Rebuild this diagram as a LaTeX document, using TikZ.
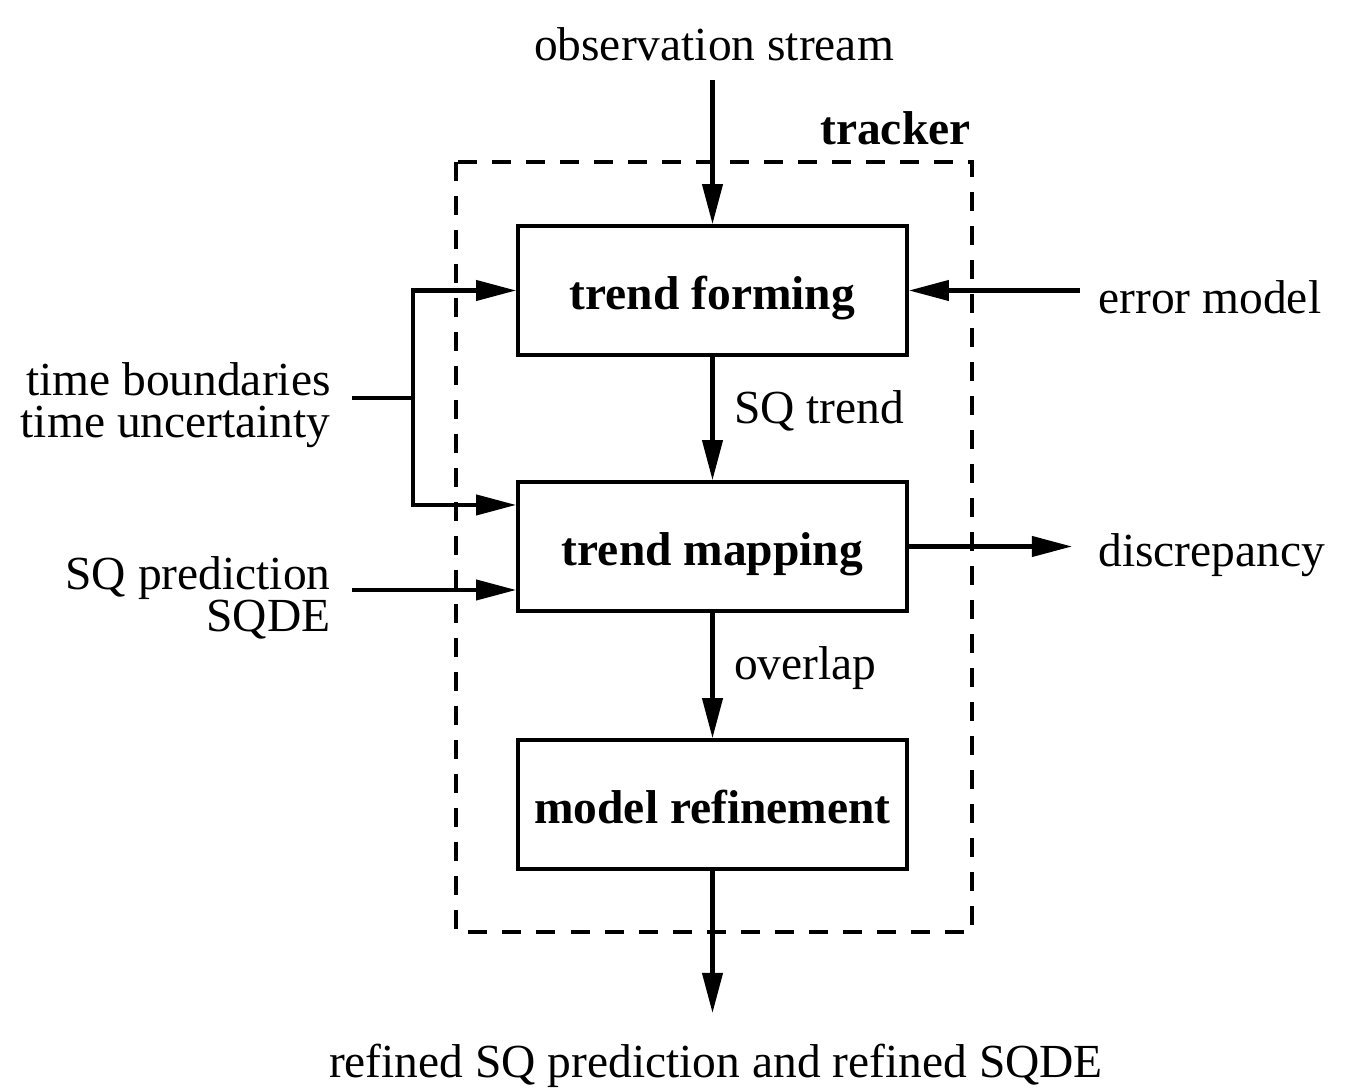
\documentclass[tikz,border=0pt]{standalone}
\usepackage{fontspec}
\setmainfont{Liberation Serif}
\usetikzlibrary{arrows.meta}

\begin{document}
\begin{tikzpicture}[x=0.01cm,y=-0.01cm,
  font=\fontsize{13.5}{12}\selectfont,
  block/.style={draw,line width=1pt,minimum width=3.89cm,minimum height=1.29cm,inner sep=0pt,text height=13.6pt,text depth=2.9pt,font=\fontsize{13.5}{12}\selectfont\bfseries},
  arr/.style={line width=1.15pt,-{Triangle[length=0.4cm,width=0.2cm]}},
  wire/.style={line width=1.15pt}]
\useasboundingbox (0,0) rectangle (1354,1089);
% tracker frame
\draw[line width=0.9pt,dash pattern=on 0.19cm off 0.15cm] (456,162) rectangle (972,932);
\node [anchor=east,font=\fontsize{13.5}{12}\selectfont\bfseries] (tracker) at (983,128) {tracker};
% blocks
\node [block] (form) at (712.5,290.5) {trend forming};
\node [block] (map) at (712.5,546.5) {trend mapping};
\node [block] (refine) at (712.5,804.5) {model refinement};
% outside texts
\node (obs) at (714,44) {observation stream};
\node [anchor=west] (err) at (1086,297) {error model};
\node [anchor=west] (disc) at (1086,555) {discrepancy};
\node [anchor=east,align=right] (time) at (343,405) {time boundaries\\time uncertainty};
\node [anchor=east,align=right] (pred) at (343,598) {SQ prediction\\SQDE};
\node (out) at (716,1066) {refined SQ prediction and refined SQDE};
% free ends
\coordinate (o0) at (712.5,80);
\coordinate (e0) at (1080,290.5);
\coordinate (d1) at (1072,546.5);
\coordinate (t0) at (352,398);
\coordinate (j) at (413,398);
\coordinate (p0) at (352,590);
\coordinate (r1) at (712.5,1013);
% connectors
\draw[arr] (o0) -- (form.north);
\draw[arr] (e0) -- (form.east);
\draw[arr] (form.south) -- node[right=0.08cm,yshift=0.08cm] (trend) {SQ trend} (map.north);
\draw[arr] (map.south) -- node[right=0.08cm,yshift=0.07cm] (ovl) {overlap} (refine.north);
\draw[arr] (map.east) -- (d1);
\draw[wire] (t0) -- (j);
\draw[arr] (j) |- (form.west);
\draw[arr] (j) |- ([yshift=0.415cm]map.west);
\draw[arr] (p0) -- (p0 -| map.west);
\draw[arr] (refine.south) -- (r1);
\end{tikzpicture}
\end{document}
